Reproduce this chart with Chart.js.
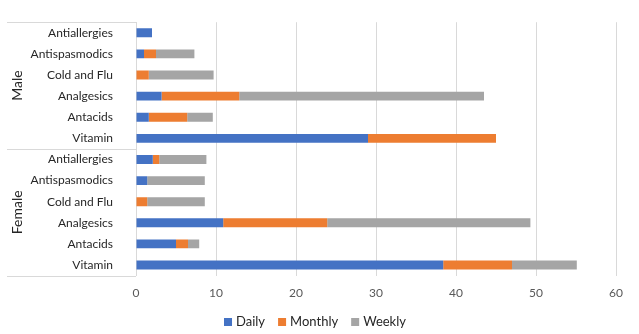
<!DOCTYPE html>
<html>
<head>
<meta charset="utf-8">
<script src="https://cdn.jsdelivr.net/npm/chart.js@4"></script>
<style>
  html, body { margin: 0; padding: 0; background: #fff; }
  #wrap { width: 639px; height: 334px; }
</style>
</head>
<body>
<div id="wrap"><canvas id="medChart"></canvas></div>
<script>
// Categories, top to bottom as shown in the chart
const groups = ['Male', 'Female'];
const drugs = ['Antiallergies', 'Antispasmodics', 'Cold and Flu', 'Analgesics', 'Antacids', 'Vitamin'];
const labels = [...drugs, ...drugs];

// Series values (Male rows first, then Female rows)
const daily   = [2.0, 1.0, 0, 3.2, 1.6, 29.0,   2.1, 1.4, 0, 10.9, 5.0, 38.4];
const monthly = [0, 1.5, 1.6, 9.7, 4.8, 16.0,   0.8, 0, 1.4, 13.0, 1.5, 8.6];
const weekly  = [0, 4.8, 8.1, 30.6, 3.2, 0,     5.9, 7.2, 7.2, 25.4, 1.4, 8.1];

const xTicks = [0, 10, 20, 30, 40, 50, 60];

const fontFamily = 'Lato, "Open Sans", sans-serif';

// Draws the outer group labels (Male / Female), the divider lines and the legend
const groupLabels = {
  id: 'groupLabels',
  afterDraw(chart) {
    const c = chart.ctx;
    const area = chart.chartArea;
    const y = chart.scales.y;
    const per = drugs.length;
    c.save();
    c.strokeStyle = '#d9d9d9';
    c.lineWidth = 1;
    // horizontal dividers
    const mid = (y.getPixelForValue(per - 1) + y.getPixelForValue(per)) / 2;
    [area.top, mid, area.bottom].forEach(py => {
      c.beginPath();
      c.moveTo(7, Math.round(py) + 0.5);
      c.lineTo(area.left, Math.round(py) + 0.5);
      c.stroke();
    });
    // group names rotated
    c.fillStyle = '#262626';
    c.font = '14px ' + fontFamily;
    c.textAlign = 'center';
    c.textBaseline = 'middle';
    groups.forEach((g, i) => {
      const top = y.getPixelForValue(i * per);
      const bottom = y.getPixelForValue(i * per + per - 1);
      c.save();
      c.translate(17, (top + bottom) / 2);
      c.rotate(-Math.PI / 2);
      c.fillText(g, 0, 0);
      c.restore();
    });

    // legend along the bottom
    c.font = '13px ' + fontFamily;
    c.textAlign = 'left';
    const items = chart.data.datasets.map(d => ({ text: d.label, color: d.backgroundColor }));
    const widths = items.map(it => 8 + 4 + c.measureText(it.text).width);
    const gap = 13;
    const total = widths.reduce((a, b) => a + b, 0) + gap * (items.length - 1);
    let lx = 315 - total / 2;
    const ly = 322;
    items.forEach((it, i) => {
      c.fillStyle = it.color;
      c.fillRect(lx, ly - 4, 8, 8);
      c.fillStyle = '#262626';
      c.fillText(it.text, lx + 12, ly);
      lx += widths[i] + gap;
    });
    c.restore();
  }
};

const ctx = document.getElementById('medChart').getContext('2d');

new Chart(ctx, {
  type: 'bar',
  data: {
    labels: labels,
    datasets: [
      { label: 'Daily', data: daily, backgroundColor: '#4472C4' },
      { label: 'Monthly', data: monthly, backgroundColor: '#ED7D31' },
      { label: 'Weekly', data: weekly, backgroundColor: '#A5A5A5' }
    ]
  },
  options: {
    indexAxis: 'y',
    responsive: true,
    maintainAspectRatio: false,
    animation: false,
    layout: { padding: { top: 6, right: 23, left: 0, bottom: 24 } },
    datasets: { bar: { barPercentage: 0.42, categoryPercentage: 1.0 } },
    plugins: {
      legend: { display: false },
      tooltip: { enabled: false }
    },
    scales: {
      x: {
        stacked: true,
        min: 0,
        max: 60,
        afterBuildTicks: s => { s.ticks = xTicks.map(v => ({ value: v })); },
        grid: { color: '#d9d9d9', drawTicks: false },
        border: { display: false },
        ticks: { color: '#595959', padding: 10, font: { family: fontFamily, size: 12 } }
      },
      y: {
        stacked: true,
        afterFit: s => { s.width = 136; },
        grid: { display: false },
        border: { display: true, color: '#d9d9d9' },
        ticks: { color: '#262626', padding: 15, font: { family: fontFamily, size: 12 } }
      }
    }
  },
  plugins: [groupLabels]
});
</script>
</body>
</html>
